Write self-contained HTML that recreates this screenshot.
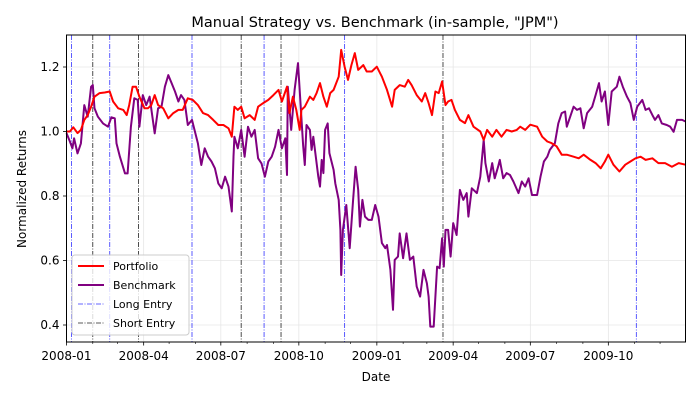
<!DOCTYPE html>
<html><head><meta charset="utf-8"><style>
html,body{margin:0;padding:0;background:#fff;width:700px;height:400px;overflow:hidden}
svg text{font-family:"DejaVu Sans","Liberation Sans",sans-serif;fill:#000}
</style></head><body>
<svg id="chart" width="700" height="400" viewBox="0 0 700 400" xmlns="http://www.w3.org/2000/svg">
<rect x="0" y="0" width="700" height="400" fill="#fff"/>
<text x="375" y="27" font-size="14.5" text-anchor="middle">Manual Strategy vs. Benchmark (in-sample, "JPM")</text>
<text x="26" y="189" font-size="12" text-anchor="middle" transform="rotate(-90 26 189)">Normalized Returns</text>
<text x="376" y="381" font-size="12" text-anchor="middle">Date</text>
<g id="grid"></g><g id="vlines"></g><g id="series"></g><g id="axes"></g><g id="legend"></g>
</svg>
<script>
// Days since 2008-01-01 and values
const benchDays=[0,4,7,9,13,17,21,25,29,31,33,37,43,49,53,57,59,63,69,72,76,80,84,86,90,94,98,104,108,112,116,120,124,128,132,135,139,143,148,151,155,159,163,167,171,175,179,183,187,191,195,197,198,202,206,210,214,218,222,226,230,234,238,242,246,250,254,258,260,261,265,269,273,279,281,283,287,289,291,294,297,299,301,303,305,308,310,315,317,321,323,324,326,330,334,338,341,344,346,349,352,356,360,364,368,372,376,378,382,385,387,391,393,397,401,405,409,413,417,421,425,427,429,433,437,440,443,445,447,450,453,456,460,464,468,472,474,478,484,488,492,494,498,502,505,509,511,515,519,523,527,533,537,541,545,549,555,559,563,567,570,576,580,584,588,590,594,598,602,606,610,614,620,624,628,631,635,639,643,649,652,656,661,665,669,673,679,683,687,691,694,698,702,708,712,716,720,726,730];
const benchVals=[0.995,0.969,0.948,0.979,0.932,0.963,1.082,1.046,1.139,1.144,1.072,1.046,1.025,1.015,1.044,1.041,0.963,0.922,0.870,0.870,1.015,1.103,1.098,1.015,1.113,1.082,1.108,0.994,1.072,1.077,1.139,1.175,1.150,1.124,1.093,1.113,1.098,1.020,1.036,1.005,0.963,0.896,0.948,0.922,0.907,0.886,0.839,0.824,0.860,0.829,0.752,0.922,0.984,0.948,1.005,0.922,1.015,0.984,1.005,0.917,0.901,0.860,0.907,0.922,0.953,1.005,0.948,0.979,0.865,1.139,1.005,1.129,1.212,0.958,0.896,1.020,1.005,0.943,0.984,0.922,0.860,0.829,0.912,0.871,1.005,1.025,0.933,0.881,0.839,0.788,0.695,0.555,0.695,0.772,0.638,0.788,0.891,0.819,0.705,0.788,0.736,0.726,0.726,0.772,0.736,0.654,0.638,0.648,0.571,0.447,0.602,0.612,0.684,0.607,0.684,0.602,0.612,0.519,0.488,0.571,0.529,0.488,0.395,0.395,0.581,0.576,0.669,0.581,0.695,0.695,0.612,0.716,0.679,0.819,0.788,0.809,0.736,0.824,0.809,0.860,0.974,0.902,0.845,0.902,0.855,0.891,0.912,0.855,0.871,0.865,0.845,0.809,0.845,0.829,0.855,0.803,0.803,0.860,0.907,0.922,0.943,0.964,1.025,1.057,1.062,1.015,1.046,1.077,1.067,1.072,1.010,1.057,1.077,1.113,1.150,1.093,1.124,1.020,1.124,1.139,1.170,1.139,1.108,1.088,1.036,1.077,1.098,1.067,1.072,1.051,1.036,1.051,1.025,1.020,1.015,0.999,1.036,1.036,1.031,1.031];
const portDays=[0,4,8,13,17,21,25,29,33,39,45,51,55,61,67,71,74,78,82,86,92,96,100,104,108,114,120,126,132,137,143,149,155,161,167,173,179,185,191,195,198,202,206,210,216,222,226,232,238,244,250,254,260,263,267,271,275,277,281,287,291,295,299,303,307,311,315,321,324,328,332,336,340,344,350,354,360,366,372,378,384,387,393,399,403,407,413,419,423,427,431,435,439,443,447,450,454,458,464,470,474,480,488,492,496,502,507,513,519,525,531,535,541,547,555,561,567,572,578,584,590,598,604,610,618,624,630,635,639,645,652,659,665,671,677,683,691,698,706,714,722,730];
const portVals=[1.000,1.000,1.013,0.995,1.005,1.036,1.051,1.077,1.108,1.119,1.121,1.124,1.093,1.072,1.067,1.051,1.082,1.139,1.139,1.108,1.072,1.072,1.082,1.113,1.082,1.072,1.041,1.057,1.067,1.067,1.103,1.098,1.082,1.057,1.051,1.036,1.020,1.020,1.010,0.984,1.077,1.067,1.077,1.041,1.051,1.036,1.077,1.088,1.098,1.113,1.129,1.093,1.139,1.057,1.108,1.067,1.005,1.067,1.077,1.108,1.098,1.119,1.150,1.108,1.077,1.119,1.129,1.170,1.253,1.201,1.160,1.206,1.243,1.191,1.206,1.186,1.186,1.201,1.170,1.129,1.077,1.129,1.144,1.139,1.160,1.144,1.113,1.093,1.119,1.088,1.051,1.124,1.119,1.155,1.082,1.093,1.098,1.067,1.036,1.026,1.051,1.015,1.000,0.974,1.005,0.984,1.005,0.984,1.005,1.000,1.005,1.015,1.005,1.021,1.015,0.984,0.969,0.964,0.954,0.928,0.928,0.922,0.917,0.928,0.912,0.902,0.886,0.907,0.928,0.897,0.876,0.897,0.907,0.917,0.922,0.912,0.917,0.902,0.902,0.891,0.902,0.897];
const longDays=[6,51,148,233,328,672];
const shortDays=[31,85,206,253,444];
const yTicks=[0.4,0.6,0.8,1.0,1.2];
const yTickLabels=["0.4","0.6","0.8","1.0","1.2"];
const xTickDays=[0,91,182,274,366,456,547,639];
const xTickLabels=["2008-01","2008-04","2008-07","2008-10","2009-01","2009-04","2009-07","2009-10"];
const minorDays=[31,60,121,152,213,244,305,335,397,425,486,517,578,609,670,700];

const L=66.5,R=685.5,T=35,B=342;
const D0=0,D1=730;
const xs=d=>L+(d-D0)/(D1-D0)*(R-L);
const ys=v=>131.5-(v-1)*322.5;
const NS="http://www.w3.org/2000/svg";
function mk(tag,parent,attrs){const e=document.createElementNS(NS,tag);for(const k in attrs)e.setAttribute(k,attrs[k]);parent.appendChild(e);return e;}
const grid=document.getElementById('grid'),vl=document.getElementById('vlines'),ser=document.getElementById('series'),ax=document.getElementById('axes'),lg=document.getElementById('legend');

yTicks.forEach((v,i)=>{
  const g=mk('line',grid,{x1:L,x2:R,y1:ys(v),y2:ys(v),stroke:'#e6e6e6','stroke-width':0.8});
  
  
  const t=mk('line',ax,{x1:L-3.5,x2:L,y1:ys(v),y2:ys(v),stroke:'#000','stroke-width':0.8});
  
  
  const tx=mk('text',ax,{x:L-7,y:ys(v)+4,'font-size':12,'text-anchor':'end'});
  tx.textContent=yTickLabels[i];
  
  
});
xTickDays.forEach((d,i)=>{
  const g=mk('line',grid,{x1:xs(d),x2:xs(d),y1:T,y2:B,stroke:'#e6e6e6','stroke-width':0.8});
  
  
  const t=mk('line',ax,{x1:xs(d),x2:xs(d),y1:B,y2:B+3.5,stroke:'#000','stroke-width':0.8});
  
  
  const tx=mk('text',ax,{x:xs(d),y:B+18,'font-size':12,'text-anchor':'middle'});
  tx.textContent=xTickLabels[i];
  
  
});
minorDays.forEach(d=>{
  const t=mk('line',ax,{x1:xs(d),x2:xs(d),y1:B,y2:B+2,stroke:'#000','stroke-width':0.6});
  
  
});
longDays.forEach(d=>{
  const l=mk('line',vl,{x1:xs(d),x2:xs(d),y1:T,y2:B,stroke:'#3333ff','stroke-width':0.8,'stroke-dasharray':'5,1.5,1,1.5'});
  
  
});
shortDays.forEach(d=>{
  const l=mk('line',vl,{x1:xs(d),x2:xs(d),y1:T,y2:B,stroke:'#222','stroke-width':0.8,'stroke-dasharray':'5,1.5,1,1.5'});
  
  
});
function path(days,vals){return days.map((d,i)=>(i?'L':'M')+xs(d).toFixed(1)+','+ys(vals[i]).toFixed(1)).join('');}
const pb=mk('path',ser,{d:path(benchDays,benchVals),fill:'none',stroke:'#800080','stroke-width':2,'stroke-linejoin':'round'});


const pp=mk('path',ser,{d:path(portDays,portVals),fill:'none',stroke:'#ff0000','stroke-width':2,'stroke-linejoin':'round'});


const fr=mk('rect',ax,{x:L,y:T,width:R-L,height:B-T,fill:'none',stroke:'#000','stroke-width':1});



const lb=mk('rect',lg,{x:72,y:255,width:117,height:80,rx:3,fill:'#fff','fill-opacity':0.8,stroke:'#ccc','stroke-width':1});


const items=[["Portfolio","#ff0000",2,null],["Benchmark","#800080",2,null],["Long Entry","#3333ff",0.8,"5,1.5,1,1.5"],["Short Entry","#222",0.8,"5,1.5,1,1.5"]];
items.forEach((it,i)=>{
  const y=266+i*19;
  const a={x1:78,x2:104,y1:y,y2:y,stroke:it[1],'stroke-width':it[2]};
  if(it[3])a['stroke-dasharray']=it[3];
  const ln=mk('line',lg,a);
  
  
  const tx=mk('text',lg,{x:113,y:y+4,'font-size':11});
  tx.textContent=it[0];
  
  
});
</script>
</body></html>
